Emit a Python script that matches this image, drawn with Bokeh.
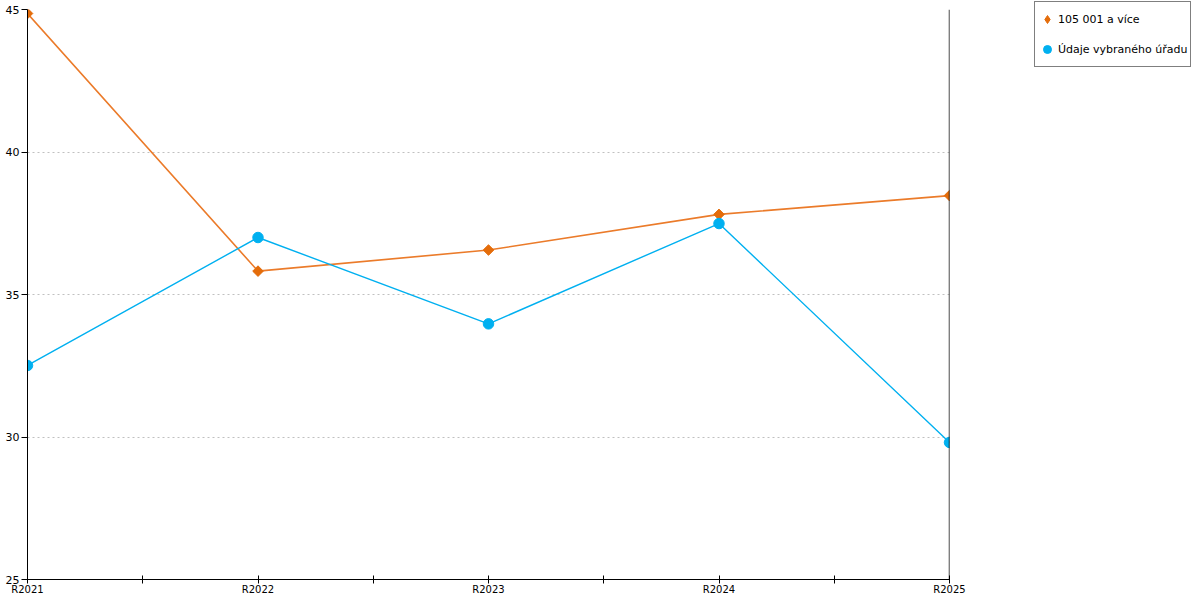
import math
from bokeh.plotting import figure
from bokeh.models import (ColumnDataSource, FixedTicker, Span, Legend, LegendItem, Range1d)
from bokeh.embed import file_html
from bokeh.resources import INLINE

categories = ["R2021", "R2022", "R2023", "R2024", "R2025"]
series_a_name = "105 001 a více"
series_a = [44.86, 35.82, 36.56, 37.81, 38.47]
series_b_name = "Údaje vybraného úřadu"
series_b = [32.51, 37.0, 33.97, 37.49, 29.81]
y_ticks = [25, 30, 35, 40, 45]

FONT = "DejaVu Sans"
ORANGE = "#E46C0A"
ORANGE_LINE = "#EB7B2A"
BLUE = "#00B0F0"

xs = list(range(len(categories)))
src = ColumnDataSource(dict(x=xs, a=series_a, b=series_b))

p = figure(frame_width=922, frame_height=570, output_backend="svg", toolbar_location=None,
           x_range=Range1d(0, len(categories) - 1), y_range=Range1d(25, 45),
           min_border_left=27, min_border_top=9, min_border_bottom=0, min_border_right=248)
p.outline_line_color = None
p.background_fill_color = "white"

xt = [i * 0.5 for i in range(2 * (len(categories) - 1) + 1)]
p.xaxis.ticker = FixedTicker(ticks=xt)
p.xaxis.major_label_overrides = {(t if t % 1 else int(t)): (categories[int(t)] if t % 1 == 0 else "") for t in xt}
p.xaxis.minor_tick_line_color = None
p.xaxis.major_tick_in = 4
p.xaxis.major_tick_out = 4
p.xaxis.axis_line_color = "black"
p.xaxis.major_tick_line_color = "black"
p.xaxis.major_label_text_font = FONT
p.xaxis.major_label_text_font_size = "10px"
p.xaxis.major_label_text_color = "black"
p.xaxis.major_label_standoff = 0

p.yaxis.ticker = FixedTicker(ticks=y_ticks)
p.yaxis.minor_tick_line_color = None
p.yaxis.major_tick_in = 0
p.yaxis.major_tick_out = 6
p.yaxis.major_label_text_font = FONT
p.yaxis.major_label_text_font_size = "11px"
p.yaxis.major_label_text_color = "black"
p.yaxis.major_label_standoff = 2
p.yaxis.axis_line_color = "black"

# right boundary line at the last category
p.add_layout(Span(location=xs[-1], dimension="height", line_color="black", line_width=1.4))

p.xgrid.grid_line_color = None
p.ygrid.ticker = FixedTicker(ticks=y_ticks)
p.ygrid.grid_line_color = "#c0c0c0"
p.ygrid.grid_line_dash = "2 3"
p.ygrid.grid_line_width = 1

la = p.line("x", "a", source=src, line_color=ORANGE_LINE, line_width=1.6)
ma = p.scatter("x", "a", source=src, marker="square", angle=math.pi / 4, size=7.5,
               fill_color=ORANGE, line_color=ORANGE)
lb = p.line("x", "b", source=src, line_color=BLUE, line_width=1.4)
mb = p.scatter("x", "b", source=src, marker="circle", size=10.5, fill_color=BLUE, line_color=BLUE)

# hidden renderers used only as legend swatches
sw_a = p.scatter("x", "a", source=src, marker="diamond", fill_color=ORANGE, line_color=ORANGE, visible=False)
sw_b = p.scatter("x", "b", source=src, marker="circle", fill_color=BLUE, line_color=BLUE, visible=False)

legend = Legend(items=[LegendItem(label=series_a_name, renderers=[sw_a]),
                       LegendItem(label=series_b_name, renderers=[sw_b])],
                location=(85, 512))
legend.border_line_color = "black"
legend.border_line_width = 1
legend.label_text_font = FONT
legend.label_text_font_size = "11px"
legend.label_text_color = "black"
legend.glyph_width = 20
legend.glyph_height = 30
legend.label_standoff = 1
legend.spacing = 0
legend.padding = 2
legend.margin = 0
legend.inactive_fill_alpha = 0
legend.click_policy = "none"
p.add_layout(legend, "right")

open("out.html", "w").write(file_html(p, INLINE))
